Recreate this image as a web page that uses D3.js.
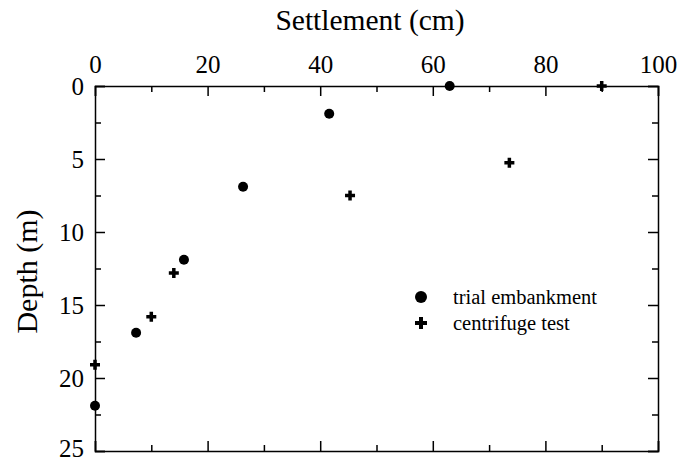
<!DOCTYPE html>
<html><head><meta charset="utf-8">
<script src="https://cdn.jsdelivr.net/npm/d3@7"></script>
<style>
body{margin:0;background:#fff;}
svg{display:block;}
text{font-family:"Liberation Serif","Times New Roman",Times,serif !important;fill:#000;}
.domain{stroke:#000;stroke-width:1.5px;}
.tick line{stroke:#000;stroke-width:1.5px;}
</style></head>
<body><svg id="c" width="693" height="461"></svg>
<script>
const embankmentSettlement = [63, 41.6, 26.3, 15.8, 7.3, 0];
const embankmentDepth      = [0, 1.9, 6.9, 11.9, 16.9, 21.9];
const centrifugeSettlement = [90, 73.6, 45.3, 14, 10, 0];
const centrifugeDepth      = [0, 5.25, 7.5, 12.8, 15.8, 19.1];
const xMajorTicks = [0, 20, 40, 60, 80, 100];
const xMinorTicks = [10, 30, 50, 70, 90];
const yMajorTicks = [0, 5, 10, 15, 20, 25];
const yMinorTicks = [2.5, 7.5, 12.5, 17.5, 22.5];
const legendLabels = ["trial embankment", "centrifuge test"];

const FONT = '"Liberation Serif","Times New Roman",Times,serif';
const svg = d3.select("#c");
const L = 95, R = 658, T = 86, B = 451;
const x = d3.scaleLinear().domain([0, 100]).range([L, R]);
const y = d3.scaleLinear().domain([0, 25]).range([T, B]);

function ax(gen, tr, ticks, size, pad) {
  const labels = pad !== undefined;
  const g = svg.append("g").attr("transform", tr)
    .call(gen.tickValues(ticks).tickSize(size).tickPadding(labels ? pad : 0)
      .tickFormat(labels ? d3.format("d") : () => ""));
  g.attr("font-family", FONT);
  g.selectAll("text").style("font-size", "25px").attr("fill", "#000");
  if (!labels) g.select(".domain").remove();
  return g;
}
// top axis
ax(d3.axisTop(x), `translate(0,${T})`, xMajorTicks, -10, 13);
ax(d3.axisTop(x), `translate(0,${T})`, xMinorTicks, -6);
// bottom axis
svg.append("g").attr("transform", `translate(0,${B})`)
  .call(d3.axisBottom(x).tickValues(xMajorTicks).tickSize(-10).tickFormat(() => ""));
ax(d3.axisBottom(x), `translate(0,${B})`, xMinorTicks, -6);
// left axis
const gl = ax(d3.axisLeft(y), `translate(${L},0)`, yMajorTicks, -10, 11);
gl.selectAll(".tick text").filter(d => d === 25).attr("dy", "0.22em");
ax(d3.axisLeft(y), `translate(${L},0)`, yMinorTicks, -6);
// right axis
svg.append("g").attr("transform", `translate(${R},0)`)
  .call(d3.axisRight(y).tickValues(yMajorTicks).tickSize(-10).tickFormat(() => ""));
ax(d3.axisRight(y), `translate(${R},0)`, yMinorTicks, -6);
svg.selectAll(".domain").attr("stroke", "#000").attr("stroke-width", 1.5);

// titles
svg.append("text").attr("x", 370).attr("y", 30).attr("text-anchor", "middle")
  .attr("font-family", FONT).style("font-size", "29.5px").text("Settlement (cm)");
svg.append("text").attr("transform", `translate(37,${(T + B) / 2 + 3}) rotate(-90)`)
  .attr("font-family", FONT).attr("text-anchor", "middle").style("font-size", "30px").text("Depth (m)");

const plus = (s, w) => `M${-w/2},${-s/2}h${w}v${(s-w)/2}h${(s-w)/2}v${w}h${-(s-w)/2}v${(s-w)/2}h${-w}v${-(s-w)/2}h${-(s-w)/2}v${-w}h${(s-w)/2}z`;

const emb = embankmentSettlement.map((v, i) => ({s: v, d: embankmentDepth[i]}));
const cen = centrifugeSettlement.map((v, i) => ({s: v, d: centrifugeDepth[i]}));
svg.append("g").selectAll("circle").data(emb).join("circle")
  .attr("cx", d => x(d.s)).attr("cy", d => y(d.d)).attr("r", 5).attr("fill", "#000");
svg.append("g").selectAll("path").data(cen).join("path")
  .attr("transform", d => `translate(${x(d.s)},${y(d.d)})`)
  .attr("d", plus(10, 3.5)).attr("fill", "#000");

// legend
svg.append("circle").attr("cx", 421).attr("cy", 297).attr("r", 6).attr("fill", "#000");
svg.append("path").attr("transform", "translate(421,323)").attr("d", plus(12, 4)).attr("fill", "#000");
svg.append("text").attr("x", 453).attr("y", 304).attr("font-family", FONT).style("font-size", "20.5px").text(legendLabels[0]);
svg.append("text").attr("x", 453).attr("y", 330).attr("font-family", FONT).style("font-size", "20.5px").text(legendLabels[1]);
</script></body></html>
